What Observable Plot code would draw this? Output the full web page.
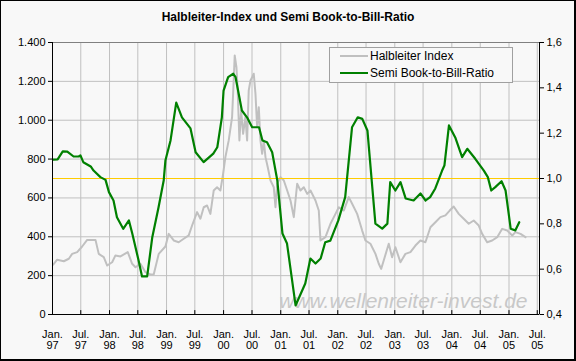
<!DOCTYPE html>
<html><head><meta charset="utf-8">
<script src="https://cdn.jsdelivr.net/npm/d3@7"></script>
<script src="https://cdn.jsdelivr.net/npm/@observablehq/plot@0.6"></script>
<style>
body{margin:0;background:#f8f8f8;}
#wrap{position:relative;width:576px;height:361px;background:#f8f8f8;font-family:"Liberation Sans",Arial,sans-serif;overflow:hidden;color:#000}
#title{height:30px;box-sizing:border-box;padding-top:10px;line-height:14px;text-align:center;font-weight:bold;font-size:12px;}
#chart svg{display:block}
#legend{position:absolute;left:329px;top:47px;width:184px;height:36px;box-sizing:border-box;border:1px solid #a0a0a0;background:#f8f8f8;font-size:12px}
.item{position:absolute;left:10px;height:14px;line-height:14px;white-space:nowrap}
.sw{display:inline-block;width:28px;height:2px;vertical-align:middle;margin-right:2px;position:relative;top:-1px}
#frame{position:absolute;left:0;top:0;width:576px;height:361px;box-sizing:border-box;border-left:1px solid #000;border-top:1px solid #000;border-right:2px solid #000;border-bottom:2px solid #000;pointer-events:none}
</style></head>
<body>
<div id="wrap">
  <div id="title"></div>
  <div id="chart"></div>
  <div id="legend"></div>
  <div id="frame"></div>
</div>
<script>
const titleText = "Halbleiter-Index und Semi Book-to-Bill-Ratio";
const seriesNames = ["Halbleiter Index", "Semi Book-to-Bill-Ratio"];
const seriesColors = ["#c0c0c0", "#008000"];
const watermark = "www.wellenreiter-invest.de";

// Halbleiter Index (left axis), decimal year and value
const sxYear = [1997.012,1997.082,1997.198,1997.286,1997.345,1997.433,1997.520,1997.608,1997.754,1997.811,1997.899,1997.959,
 1998.046,1998.104,1998.192,1998.320,1998.397,1998.455,1998.542,1998.630,1998.717,1998.775,1998.863,1998.980,
 1999.038,1999.126,1999.213,1999.301,1999.389,1999.448,1999.536,1999.594,1999.652,1999.711,1999.769,1999.827,1999.886,1999.944,1999.992,
 2000.032,2000.090,2000.149,2000.177,2000.195,2000.225,2000.247,2000.277,2000.307,2000.342,2000.382,2000.412,2000.440,2000.470,2000.500,2000.528,2000.558,2000.587,2000.616,2000.645,2000.675,2000.703,2000.733,2000.773,2000.821,2000.878,2000.908,2000.938,2000.996,
 2001.054,2001.113,2001.171,2001.229,2001.288,2001.346,2001.404,2001.464,2001.522,2001.609,2001.667,2001.697,2001.784,2001.872,2001.960,
 2002.018,2002.105,2002.193,2002.252,2002.340,2002.428,2002.485,2002.573,2002.661,2002.719,2002.761,2002.806,2002.894,2002.953,
 2003.011,2003.099,2003.186,2003.274,2003.362,2003.449,2003.537,2003.625,2003.712,2003.800,2003.888,2003.963,
 2004.033,2004.121,2004.208,2004.296,2004.383,2004.471,2004.531,2004.618,2004.706,2004.794,2004.881,2004.969,
 2005.057,2005.114,2005.202,2005.290];
const sxValue = [257,282,274,287,312,321,350,384,384,312,295,252,
 269,304,299,321,261,243,261,218,206,206,312,350,
 415,381,372,390,407,458,527,493,552,561,518,638,655,638,724,
 810,896,1016,1204,1333,1273,1153,896,1050,930,1016,896,1153,1204,1221,1239,1136,964,1067,896,827,896,810,758,690,655,552,673,707,
 690,638,587,501,673,638,655,621,638,587,535,381,398,467,518,
 552,535,604,570,518,432,381,364,312,261,235,278,364,295,
 346,269,312,321,355,381,372,449,475,501,510,535,
 556,518,493,467,484,458,415,372,381,398,441,432,
 407,424,415,398];

// Semi Book-to-Bill-Ratio (right axis)
const bbYear = [1997.01,1997.09,1997.18,1997.26,1997.37,1997.46,1997.49,1997.54,1997.67,1997.72,1997.84,1997.93,1997.99,
 1998.07,1998.13,1998.24,1998.34,1998.40,1998.51,1998.57,1998.66,1998.75,1998.86,1998.95,1998.98,
 1999.07,1999.17,1999.27,1999.42,1999.51,1999.65,1999.82,1999.89,1999.97,
 2000.00,2000.08,2000.17,2000.21,2000.32,2000.41,2000.50,2000.62,2000.68,2000.76,2000.85,2000.94,
 2001.03,2001.11,2001.26,2001.43,2001.52,2001.61,2001.70,2001.78,2001.87,
 2002.01,2002.13,2002.25,2002.35,2002.43,2002.52,2002.66,2002.78,2002.87,2002.92,
 2003.01,2003.10,2003.19,2003.33,2003.45,2003.54,2003.62,2003.71,2003.83,2003.87,2003.95,
 2004.06,2004.18,2004.27,2004.41,2004.56,2004.63,2004.69,2004.76,2004.87,2004.94,2004.98,
 2005.03,2005.11,2005.18];
const bbRatio = [1.083,1.084,1.120,1.119,1.097,1.097,1.102,1.072,1.053,1.035,1.006,0.994,0.940,
 0.903,0.829,0.778,0.815,0.756,0.638,0.568,0.568,0.741,0.873,0.991,1.079,
 1.168,1.335,1.270,1.221,1.116,1.072,1.110,1.138,1.270,
 1.388,1.447,1.462,1.447,1.300,1.270,1.226,1.226,1.168,1.160,1.116,0.991,
 0.757,0.713,0.440,0.537,0.647,0.625,0.647,0.719,0.726,
 0.815,0.918,1.226,1.270,1.263,1.212,0.801,0.779,0.801,0.984,
 0.947,0.984,0.912,0.903,0.934,0.903,0.918,0.956,1.035,1.057,1.234,
 1.181,1.094,1.131,1.087,1.035,1.006,0.947,0.962,0.988,0.947,0.873,
 0.778,0.771,0.807];

const leftTicks = [0,200,400,600,800,1000,1200,1400];
const leftLabels = ["0","200","400","600","800","1.000","1.200","1.400"];
const rightTicks = [0.4,0.6,0.8,1.0,1.2,1.4,1.6];
const rightLabels = ["0,4","0,6","0,8","1,0","1,2","1,4","1,6"];
const tickYears = [1997,1997,1998,1998,1999,1999,2000,2000,2001,2001,2002,2002,2003,2003,2004,2004,2005,2005];
const tickMonths = [0,6,0,6,0,6,0,6,0,6,0,6,0,6,0,6,0,6];
const tickLabels = ["Jan.\n97","Jul.\n97","Jan.\n98","Jul.\n98","Jan.\n99","Jul.\n99","Jan.\n00","Jul.\n00","Jan.\n01","Jul.\n01","Jan.\n02","Jul.\n02","Jan.\n03","Jul.\n03","Jan.\n04","Jul.\n04","Jan.\n05","Jul.\n05"];
const refRatio = 1.0;

function toDate(t){const y=Math.floor(t);const f=t-y;const s=Date.UTC(y,0,1),e=Date.UTC(y+1,0,1);return new Date(s+f*(e-s));}
const rMin = 0.4, rMax = 1.6, lMax = 1400;
const toLeft = r => (r - rMin) / (rMax - rMin) * lMax;

const sx = sxYear.map((t,i)=>({date:toDate(t), v:sxValue[i]}));
const bb = bbYear.map((t,i)=>({date:toDate(t), v:toLeft(bbRatio[i])}));
const xTicks = tickYears.map((y,i)=>new Date(Date.UTC(y,tickMonths[i],1)));
const xStart = new Date(Date.UTC(1997,0,1));
const xEnd = toDate(2005.535);
const rightPos = rightTicks.map(toLeft);

document.getElementById("title").textContent = titleText;
const lg = document.getElementById("legend");
seriesNames.forEach((n,i)=>{
  const d=document.createElement("div");d.className="item";d.style.top=(i===0?1:18)+"px";
  const s=document.createElement("span");s.className="sw";s.style.background=seriesColors[i];
  d.appendChild(s);d.appendChild(document.createTextNode(n));lg.appendChild(d);
});

const chart = Plot.plot({
  width: 576, height: 331,
  marginLeft: 52, marginRight: 37, marginTop: 12, marginBottom: 47,
  style: {fontFamily: "'Liberation Sans', Arial, sans-serif", fontSize: "11px", background: "transparent", color: "#000", overflow: "visible"},
  x: {type: "utc", domain: [xStart, xEnd]},
  y: {domain: [0, lMax]},
  marks: [
    Plot.ruleY(leftTicks.slice(1, -1), {stroke: "#c0c0c0", strokeWidth: 1}),
    Plot.ruleX(xTicks.slice(1), {stroke: "#c0c0c0", strokeWidth: 1}),
    Plot.frame({stroke: "#808080"}),
    Plot.text([watermark], {frameAnchor: "bottom-right", textAnchor: "end", lineAnchor: "bottom", dx: -12, dy: -7, fontStyle: "italic", fontSize: 21, fill: "#c8c8c8"}),
    Plot.line(sx, {x: "date", y: "v", stroke: seriesColors[0], strokeWidth: 2, curve: "linear"}),
    Plot.ruleY([toLeft(refRatio)], {stroke: "#ffcc00", strokeWidth: 1}),
    Plot.line(bb, {x: "date", y: "v", stroke: seriesColors[1], strokeWidth: 2.2, curve: "linear"}),
    Plot.ruleX(xTicks, {y1: 0, y2: 20, stroke: "#000"}),
    Plot.ruleY([0], {stroke: "#000"}),
    Plot.ruleX([xStart, xEnd], {stroke: "#000"}),
    Plot.axisY(leftTicks, {anchor: "left", tickSize: 4, tickPadding: 3, tickFormat: d => leftLabels[leftTicks.indexOf(d)], label: null, fontSize: 11}),
    Plot.axisY(rightPos, {anchor: "right", tickSize: 4, tickPadding: 3, tickFormat: d => rightLabels[rightPos.findIndex(p => Math.abs(p - d) < 1e-6)], label: null, fontSize: 11}),
    Plot.axisX(xTicks, {anchor: "bottom", tickSize: 0, tickPadding: 16, tickFormat: d => tickLabels[xTicks.findIndex(t => +t === +d)], label: null, fontSize: 11})
  ]
});
document.getElementById("chart").appendChild(chart);
</script>
</body></html>
